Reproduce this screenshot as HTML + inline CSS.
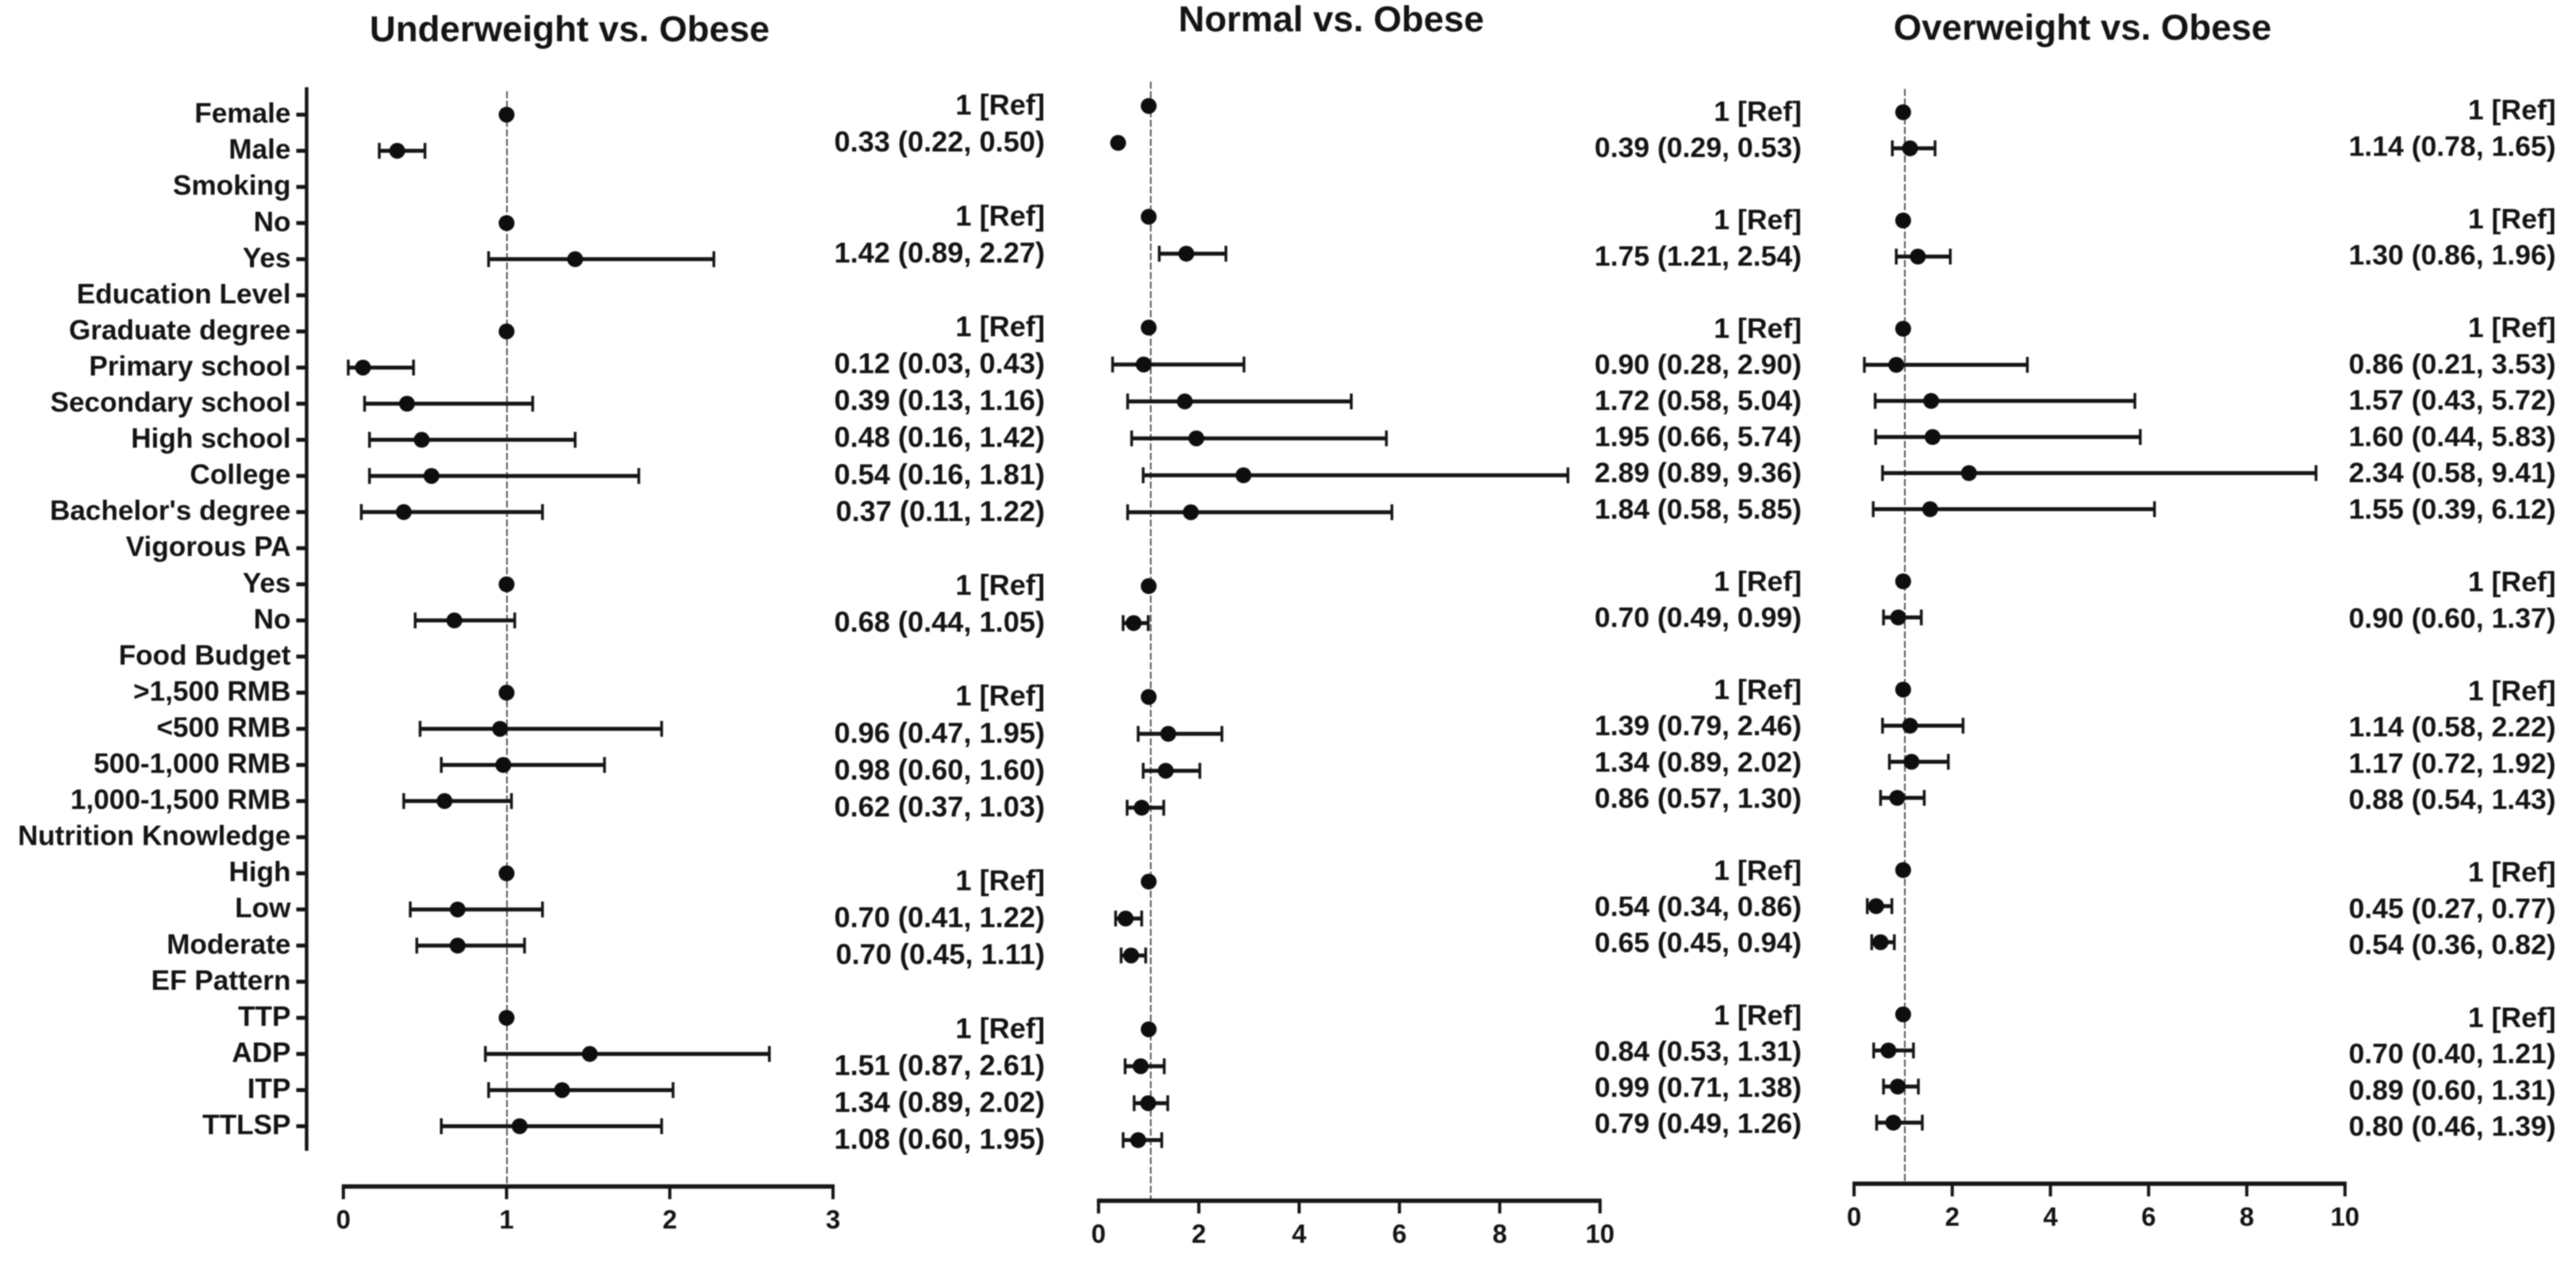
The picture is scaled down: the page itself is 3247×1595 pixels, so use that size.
<!DOCTYPE html>
<html lang="en">
<head>
<meta charset="utf-8">
<title>Forest plots vs. Obese</title>
<style>
html,body{margin:0;padding:0;background:#fff;}
body{width:3247px;height:1595px;overflow:hidden;}
svg{display:block;filter:blur(0.9px);}
text{font-family:"Liberation Sans",Arial,sans-serif;font-weight:bold;fill:#141414;}
</style>
</head>
<body>
<svg id="chart" xmlns="http://www.w3.org/2000/svg" width="3247" height="1595" viewBox="0 0 3247 1595">
<rect x="0" y="0" width="3247" height="1595" fill="#fff"></rect>
</svg>
<script>
const categories = ["Female","Male","Smoking","No","Yes","Education Level","Graduate degree","Primary school","Secondary school","High school","College","Bachelor's degree","Vigorous PA","Yes","No","Food Budget",">1,500 RMB","<500 RMB","500-1,000 RMB","1,000-1,500 RMB","Nutrition Knowledge","High","Low","Moderate","EF Pattern","TTP","ADP","ITP","TTLSP"];

const underweightOR = [1,0.33,null,1,1.42,null,1,0.12,0.39,0.48,0.54,0.37,null,1,0.68,null,1,0.96,0.98,0.62,null,1,0.70,0.70,null,1,1.51,1.34,1.08];
const underweightLow = [null,0.22,null,null,0.89,null,null,0.03,0.13,0.16,0.16,0.11,null,null,0.44,null,null,0.47,0.60,0.37,null,null,0.41,0.45,null,null,0.87,0.89,0.60];
const underweightHigh = [null,0.50,null,null,2.27,null,null,0.43,1.16,1.42,1.81,1.22,null,null,1.05,null,null,1.95,1.60,1.03,null,null,1.22,1.11,null,null,2.61,2.02,1.95];

const normalOR = [1,0.39,null,1,1.75,null,1,0.90,1.72,1.95,2.89,1.84,null,1,0.70,null,1,1.39,1.34,0.86,null,1,0.54,0.65,null,1,0.84,0.99,0.79];
const normalLow = [null,0.29,null,null,1.21,null,null,0.28,0.58,0.66,0.89,0.58,null,null,0.49,null,null,0.79,0.89,0.57,null,null,0.34,0.45,null,null,0.53,0.71,0.49];
const normalHigh = [null,0.53,null,null,2.54,null,null,2.90,5.04,5.74,9.36,5.85,null,null,0.99,null,null,2.46,2.02,1.30,null,null,0.86,0.94,null,null,1.31,1.38,1.26];
const normalRowsWithoutBars = ["Male"];

const overweightOR = [1,1.14,null,1,1.30,null,1,0.86,1.57,1.60,2.34,1.55,null,1,0.90,null,1,1.14,1.17,0.88,null,1,0.45,0.54,null,1,0.70,0.89,0.80];
const overweightLow = [null,0.78,null,null,0.86,null,null,0.21,0.43,0.44,0.58,0.39,null,null,0.60,null,null,0.58,0.72,0.54,null,null,0.27,0.36,null,null,0.40,0.60,0.46];
const overweightHigh = [null,1.65,null,null,1.96,null,null,3.53,5.72,5.83,9.41,6.12,null,null,1.37,null,null,2.22,1.92,1.43,null,null,0.77,0.82,null,null,1.21,1.31,1.39];

const underweightTicks = [0,1,2,3];
const normalTicks = [0,2,4,6,8,10];
const overweightTicks = [0,2,4,6,8,10];

const svg = document.getElementById('chart');
const NS = 'http://www.w3.org/2000/svg';
const INK = '#161616';

function shape(parent, tag, props) {
  const el = document.createElementNS(NS, tag);
  for (const k in props) el.setAttribute(k, props[k]);
  parent.appendChild(el);
  return el;
}

function drawPanel(cfg) {
  const g = shape(svg, 'g', {});
  
  

  const xScale = v => cfg.x0 + (v - cfg.domain[0]) / (cfg.domain[1] - cfg.domain[0]) * (cfg.x1 - cfg.x0);
  const markY = i => cfg.markTop + cfg.markStep * i;
  const textY = i => cfg.textTop + cfg.textStep * i;

  const title = shape(g, 'text', {x: cfg.titleX, y: cfg.titleY, 'font-size': 45.6, 'text-anchor': 'middle'});
  title.textContent = cfg.title;
  
  

  const refLine = shape(g, 'line', {x1: cfg.refX, x2: cfg.refX, y1: cfg.refTop, y2: cfg.axisY, stroke: '#555', 'stroke-width': 2, 'stroke-dasharray': '9 3'});
  
  

  const xAxis = shape(g, 'line', {x1: cfg.x0 - 2, x2: cfg.x1 + 2, y1: cfg.axisY, y2: cfg.axisY, stroke: INK, 'stroke-width': 5.5});
  
  

  cfg.ticks.forEach(t => {
    const tick = shape(g, 'line', {x1: xScale(t), x2: xScale(t), y1: cfg.axisY, y2: cfg.axisY + 16, stroke: INK, 'stroke-width': 4});
    
    
    const lab = shape(g, 'text', {x: xScale(t), y: cfg.axisY + 53, 'font-size': 33, 'text-anchor': 'middle'});
    lab.textContent = String(t);
    
    
  });

  if (cfg.showCategories) {
    const yAxis = shape(g, 'line', {x1: cfg.yAxisX, x2: cfg.yAxisX, y1: cfg.yAxisTop, y2: cfg.yAxisBottom, stroke: INK, 'stroke-width': 4.5});
    
    
    categories.forEach((c, i) => {
      const tick = shape(g, 'line', {x1: cfg.yAxisX - 13, x2: cfg.yAxisX, y1: markY(i), y2: markY(i), stroke: INK, 'stroke-width': 5});
      
      
      const lab = shape(g, 'text', {x: cfg.yAxisX - 20, y: markY(i) + 10, 'font-size': 35.2, 'text-anchor': 'end'});
      lab.textContent = c;
      
      
    });
  }

  categories.forEach((c, i) => {
    const or = cfg.or[i];
    if (or === null) return;
    const lo = cfg.low[i], hi = cfg.high[i];
    const y = markY(i);
    const isRef = lo === null || hi === null;
    if (!isRef && !(cfg.noBars || []).includes(c)) {
      const bar = shape(g, 'line', {x1: xScale(lo), x2: xScale(hi), y1: y, y2: y, stroke: INK, 'stroke-width': 5});
      
      
      const capLo = shape(g, 'line', {x1: xScale(lo), x2: xScale(lo), y1: y - 10, y2: y + 10, stroke: INK, 'stroke-width': 3.5});
      
      
      const capHi = shape(g, 'line', {x1: xScale(hi), x2: xScale(hi), y1: y - 10, y2: y + 10, stroke: INK, 'stroke-width': 3.5});
      
      
    }
    const dot = shape(g, 'circle', {cx: xScale(or), cy: y, r: 10, fill: '#0e0e0e'});
    
    

    const val = shape(g, 'text', {x: cfg.textRight, y: textY(i) + cfg.textDy, 'font-size': cfg.textSize, 'text-anchor': 'end'});
    val.textContent = isRef ? '1 [Ref]' : or.toFixed(2) + ' (' + lo.toFixed(2) + ', ' + hi.toFixed(2) + ')';
    
    
  });
}

drawPanel({key:'underweight', title:'Underweight vs. Obese', or:underweightOR, low:underweightLow, high:underweightHigh, ticks:underweightTicks, domain:[0,3],
  x0:432.8, x1:1050, axisY:1496, refX:639, refTop:115, titleX:718, titleY:52,
  markTop:144.6, markStep:45.55, textTop:133.6, textStep:46.57, textRight:1317, textSize:36.2, textDy:11,
  showCategories:true, yAxisX:386.5, yAxisTop:110, yAxisBottom:1451});

drawPanel({key:'normal', title:'Normal vs. Obese', or:normalOR, low:normalLow, high:normalHigh, noBars:normalRowsWithoutBars, ticks:normalTicks, domain:[0,10],
  x0:1384.7, x1:2016.8, axisY:1514, refX:1450.5, refTop:103, titleX:1678, titleY:39.5,
  markTop:133.6, markStep:46.57, textTop:141.5, textStep:45.57, textRight:2271, textSize:35.6, textDy:11,
  });

drawPanel({key:'overweight', title:'Overweight vs. Obese', or:overweightOR, low:overweightLow, high:overweightHigh, ticks:overweightTicks, domain:[0,10],
  x0:2337, x1:2955.8, axisY:1492.5, refX:2401, refTop:112, titleX:2625, titleY:50,
  markTop:141.5, markStep:45.5, textTop:139.5, textStep:45.77, textRight:3221.6, textSize:35.6, textDy:11});
</script>
</body>
</html>
